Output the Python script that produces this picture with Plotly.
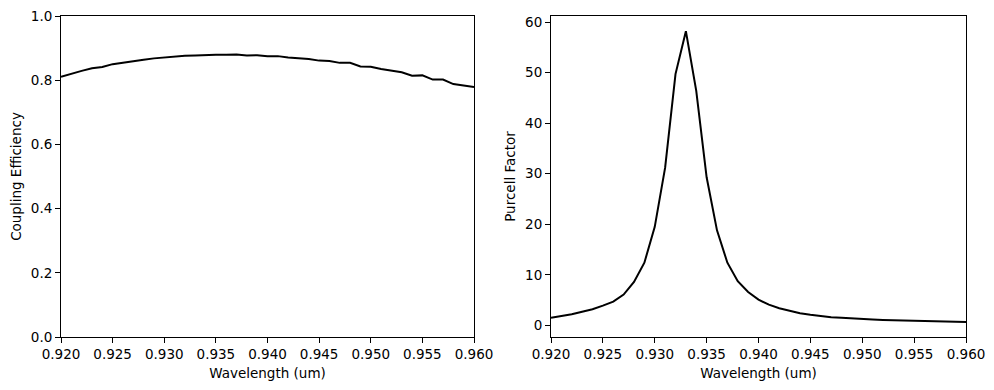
import plotly.graph_objects as go

wavelength = [round(0.920 + 0.001 * i, 3) for i in range(41)]

coupling_efficiency = [
    0.811, 0.821, 0.829, 0.837, 0.841, 0.850, 0.855, 0.861, 0.864, 0.868,
    0.871, 0.874, 0.876, 0.877, 0.879, 0.879, 0.879, 0.880, 0.877, 0.878,
    0.875, 0.875, 0.871, 0.869, 0.866, 0.861, 0.860, 0.854, 0.854, 0.843,
    0.842, 0.835, 0.829, 0.825, 0.814, 0.815, 0.802, 0.802, 0.788, 0.783,
    0.779,
]

purcell_factor = [
    1.5, 1.8, 2.2, 2.7, 3.2, 3.9, 4.7, 6.1, 8.6, 12.4,
    19.5, 31.2, 49.7, 58.2, 46.4, 29.3, 18.8, 12.4, 8.75, 6.6,
    5.1, 4.1, 3.4, 2.9, 2.4, 2.1, 1.8, 1.6, 1.5, 1.35,
    1.25, 1.15, 1.07, 1.0, 0.94, 0.88, 0.83, 0.78, 0.74, 0.70,
    0.66,
]

x_ticks = [0.920, 0.925, 0.930, 0.935, 0.940, 0.945, 0.950, 0.955, 0.960]

# page has an 8px body margin, so the figure is placed at (8, 8)
OFF = 8
W, H = 994 - 2 * OFF, 390 - 2 * OFF
ML, MT = 61 - OFF, 16 - OFF
MR = W - (966 - OFF)
MB = H - (337 - OFF)
IW = W - ML - MR
FONT = dict(family="DejaVu Sans", size=13.5, color="black")

fig = go.Figure()
fig.add_trace(go.Scatter(x=wavelength, y=coupling_efficiency, mode="lines",
                         line=dict(color="black", width=2), xaxis="x", yaxis="y",
                         showlegend=False))
fig.add_trace(go.Scatter(x=wavelength, y=purcell_factor, mode="lines",
                         line=dict(color="black", width=2), xaxis="x2", yaxis="y2",
                         showlegend=False))

axis_common = dict(showline=True, linecolor="black", linewidth=1, mirror=True,
                   ticks="outside", ticklen=5, tickwidth=1, tickcolor="black",
                   showgrid=False, zeroline=False, tickfont=FONT, automargin=False,
                   ticklabeloverflow="allow")

fig.update_layout(
    width=W, height=H,
    margin=dict(l=ML, r=MR, t=MT, b=MB),
    paper_bgcolor="white", plot_bgcolor="white",
    font=FONT,
    xaxis=dict(domain=[0, (474 - 61) / IW], range=[0.920, 0.960], tickvals=x_ticks,
               tickformat=".3f", anchor="y",
               title=dict(text="Wavelength (um)", font=FONT, standoff=7), **axis_common),
    yaxis=dict(domain=[0, 1], range=[0, 1], tickvals=[0, 0.2, 0.4, 0.6, 0.8, 1.0],
               tickformat=".1f", anchor="x",
               title=dict(text="Coupling Efficiency", font=FONT, standoff=6), **axis_common),
    xaxis2=dict(domain=[(551 - 61) / IW, 1], range=[0.920, 0.960], tickvals=x_ticks,
                tickformat=".3f", anchor="y2",
                title=dict(text="Wavelength (um)", font=FONT, standoff=7), **axis_common),
    yaxis2=dict(domain=[0, 1], range=[-2.3, 61.2], tickvals=[0, 10, 20, 30, 40, 50, 60],
                anchor="x2",
                title=dict(text="Purcell Factor", font=FONT, standoff=6), **axis_common),
)

fig.write_html("out.html")
